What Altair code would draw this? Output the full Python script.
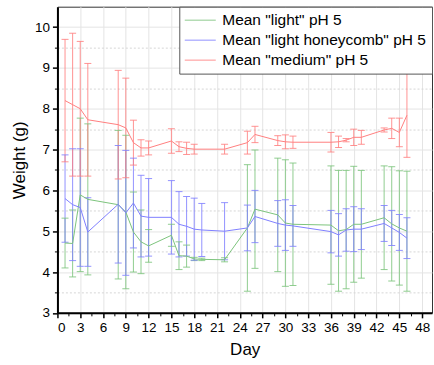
import altair as alt
import pandas as pd

# Sampling days (shared by all three series)
days = [1, 2, 3, 4, 8, 9, 10, 11, 12, 15, 16, 17, 18, 19, 22, 25, 26, 29, 30, 31,
        36, 37, 38, 39, 40, 43, 44, 45, 46]

# Mean weight (g) and error (+/-) per series
light_mean = [4.71, 4.70, 5.89, 5.78, 5.65, 5.47, 4.98, 4.74, 4.64, 4.90, 4.40, 4.39, 4.32, 4.31, 4.30,
              5.08, 5.54, 5.40, 5.20, 5.17, 5.15, 5.01, 5.04, 5.17, 5.17, 5.33, 5.18, 5.08, 5.00]
light_err = [0.61, 0.82, 1.88, 1.85, 1.82, 1.88, 0.98, 0.78, 0.40, 0.27, 0.34, 0.27, 0.04, 0.03, 0.05,
             1.55, 1.45, 1.39, 1.55, 1.50, 1.45, 1.48, 1.45, 1.42, 1.32, 1.27, 1.40, 1.40, 1.47]

honey_mean = [5.80, 5.65, 5.58, 4.98, 5.66, 5.45, 5.69, 5.37, 5.34, 5.34, 5.17, 5.12, 5.05, 5.03, 5.00,
              5.08, 5.36, 5.19, 5.15, 5.13, 4.99, 4.91, 5.03, 5.05, 5.05, 5.19, 5.08, 4.97, 4.83]
honey_err = [1.07, 1.37, 1.44, 0.84, 1.44, 1.53, 1.10, 1.00, 0.95, 0.90, 0.80, 0.73, 0.76, 0.65, 0.70,
             0.56, 0.64, 0.56, 0.62, 0.50, 0.52, 0.52, 0.52, 0.55, 0.50, 0.44, 0.43, 0.44, 0.50]

medium_mean = [8.20, 8.10, 8.00, 7.73, 7.61, 7.53, 7.17, 7.04, 7.04, 7.21, 7.07, 7.03, 7.01, None, 7.01,
               7.17, 7.37, 7.22, 7.19, 7.18, 7.18, 7.19, 7.23, 7.30, 7.30, 7.48, 7.52, 7.42, 7.84]
medium_err = [1.50, 1.75, 1.65, 1.38, 1.33, 1.22, 0.55, 0.20, 0.17, 0.30, 0.12, 0.15, 0.12, None, 0.12,
              0.28, 0.20, 0.12, 0.17, 0.15, 0.24, 0.14, 0.04, 0.20, 0.17, 0.05, 0.25, 0.35, 1.03]

series_names = ['Mean "light" pH 5', 'Mean "light honeycomb" pH 5', 'Mean "medium" pH 5']
series_colors = ["#7cc47c", "#8080ff", "#ff8080"]

x_major = list(range(0, 49, 3))
x_minor = [v + 1.5 for v in range(0, 48, 3)]
y_major = list(range(3, 11))
y_minor = [v + 0.5 for v in range(3, 10)]

rows = []
for name, means, errs in zip(series_names,
                             [light_mean, honey_mean, medium_mean],
                             [light_err, honey_err, medium_err]):
    for d, m, e in zip(days, means, errs):
        if m is None:
            continue
        rows.append({"day": d, "series": name, "mean": m,
                     "lo": round(m - e, 3), "hi": round(m + e, 3)})
df = pd.DataFrame(rows)

FONT = "Liberation Sans"
x_scale = alt.Scale(domain=[0, 49.3], nice=False, zero=False)
y_scale = alt.Scale(domain=[3, 10.5], nice=False, zero=False)

# Long horizontal stroke as legend key, wider than its 16px layout box
legend = alt.Legend(title=None, orient="top-right", offset=0, padding=5,
                    fillColor="white", strokeColor="#555555",
                    symbolType="M-1.94,0H1.94", symbolSize=256, symbolStrokeWidth=1,
                    symbolOffset=7.5,
                    labelFontSize=15.5, labelFont=FONT, labelColor="black",
                    labelOffset=13.5, rowPadding=3, labelLimit=400)
color = alt.Color("series:N", scale=alt.Scale(domain=series_names, range=series_colors),
                  legend=legend)

base = alt.Chart(df)

# Vertical error bars, carrying the minor ticks and dotted minor grid
bars = base.mark_rule(strokeWidth=1, opacity=0.85).encode(
    x=alt.X("day:Q", scale=x_scale,
            axis=alt.Axis(values=x_minor, labels=False, tickSize=3, tickColor="black",
                          grid=False, domain=False, title="", orient="bottom")),
    y=alt.Y("lo:Q", scale=y_scale,
            axis=alt.Axis(values=y_minor, labels=False, tickSize=3, tickColor="black",
                          grid=True, gridColor="#d6d6d6", gridDash=[2, 2], gridWidth=1,
                          domain=False, title="", orient="left")),
    y2="hi:Q",
    color=color,
)

caps_lo = base.mark_tick(orient="horizontal", size=7, thickness=1, opacity=0.85).encode(
    x=alt.X("day:Q", scale=x_scale, axis=None),
    y=alt.Y("lo:Q", scale=y_scale, axis=None),
    color=color,
)
caps_hi = base.mark_tick(orient="horizontal", size=7, thickness=1, opacity=0.85).encode(
    x=alt.X("day:Q", scale=x_scale, axis=None),
    y=alt.Y("hi:Q", scale=y_scale, axis=None),
    color=color,
)

# Mean lines with the labelled major axes
lines = base.mark_line(strokeWidth=1).encode(
    x=alt.X("day:Q", scale=x_scale,
            axis=alt.Axis(values=x_major, format="d", tickSize=5, tickColor="black", tickWidth=1.5,
                          grid=True, gridColor="#e4e4e4", gridWidth=1,
                          domain=True, domainColor="black", domainWidth=2,
                          labelFontSize=13.5, labelColor="black", labelPadding=3,
                          title="Day", titleFontSize=17, titleFontWeight="normal",
                          titleColor="black", titlePadding=7, orient="bottom")),
    y=alt.Y("mean:Q", scale=y_scale,
            axis=alt.Axis(values=y_major, format="d", tickSize=5, tickColor="black", tickWidth=1.5,
                          grid=True, gridColor="#e4e4e4", gridWidth=1,
                          domain=True, domainColor="black", domainWidth=2,
                          labelFontSize=13.5, labelColor="black", labelPadding=3,
                          title="Weight (g)", titleFontSize=17, titleFontWeight="normal",
                          titleColor="black", titlePadding=6, orient="left")),
    color=color,
)

chart = alt.layer(bars, caps_lo, caps_hi, lines).resolve_axis(
    x="independent", y="independent"
).properties(
    width=375,
    height=306.5,
    autosize=alt.AutoSizeParams(type="none"),
    padding={"left": 57.5, "top": 6.5, "right": 2, "bottom": 46},
).configure(
    font=FONT,
    background="white",
).configure_view(
    stroke="#333333",
    strokeWidth=1,
)

chart.save("out.html", embed_options={"renderer": "svg", "actions": False})
